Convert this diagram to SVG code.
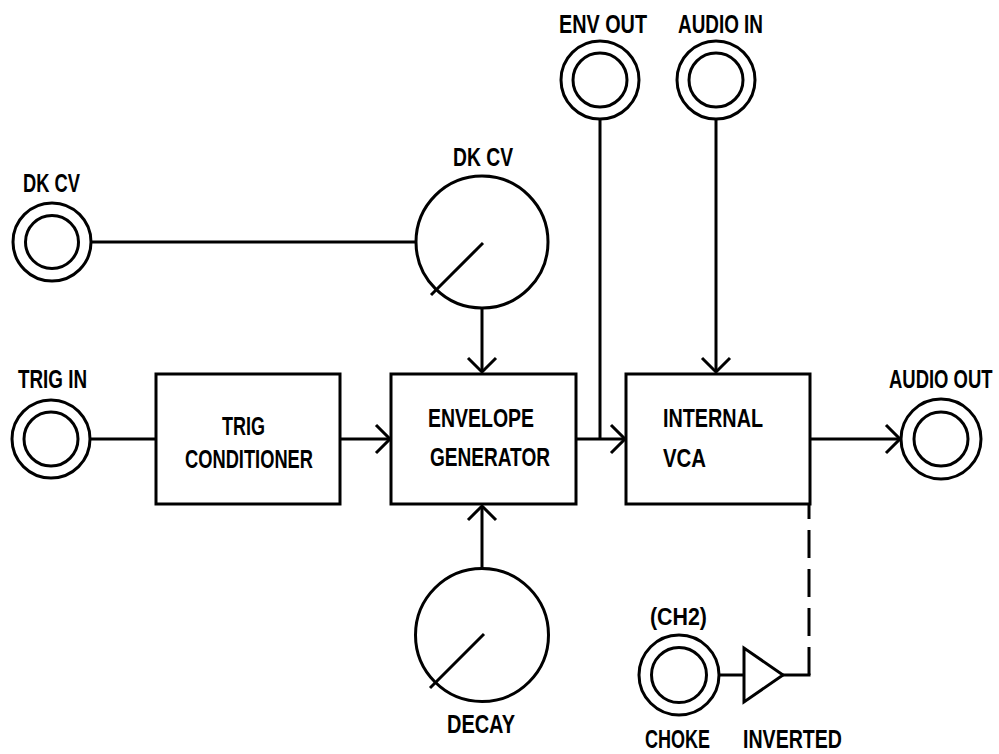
<svg xmlns="http://www.w3.org/2000/svg" width="999" height="754" viewBox="0 0 999 754">
<defs>
<style>
.ln{fill:none;stroke:#000;stroke-width:3}
.box{fill:#fff;stroke:#000;stroke-width:3}
.t{font-family:"Liberation Sans",Arial,sans-serif;font-weight:bold;font-size:26px;fill:#000}
</style>
<marker id="arr" markerUnits="userSpaceOnUse" markerWidth="32" markerHeight="32" refX="0" refY="0" orient="auto" overflow="visible">
<path d="M-14,-14 L0,0 L-14,14" fill="none" stroke="#000" stroke-width="3"/>
</marker>
</defs>
<rect width="999" height="754" fill="#fff"/>
<g id="connectors">
<line class="ln" x1="90" y1="242" x2="416" y2="242"/>
<line class="ln" x1="482" y1="308" x2="482" y2="372" marker-end="url(#arr)"/>
<line class="ln" x1="482" y1="568" x2="482" y2="506" marker-end="url(#arr)"/>
<line class="ln" x1="90" y1="439" x2="156" y2="439"/>
<line class="ln" x1="340" y1="439" x2="390" y2="439" marker-end="url(#arr)"/>
<line class="ln" x1="576" y1="439" x2="625" y2="439" marker-end="url(#arr)"/>
<line class="ln" x1="600" y1="118" x2="600" y2="439"/>
<line class="ln" x1="716" y1="118" x2="716" y2="372" marker-end="url(#arr)"/>
<line class="ln" x1="810" y1="439" x2="900" y2="439" marker-end="url(#arr)"/>
<line class="ln" x1="809" y1="675" x2="809" y2="504" stroke-dasharray="28 11"/>
<line class="ln" x1="782" y1="675" x2="810.5" y2="675"/>
<line class="ln" x1="719" y1="675" x2="744" y2="675"/>
</g>
<g id="jack-dkcv">
<circle class="ln" cx="52" cy="242" r="39"/>
<circle class="ln" cx="52" cy="242" r="26.5"/>
<text class="t" x="23" y="192" textLength="57" lengthAdjust="spacingAndGlyphs">DK CV</text>
</g>
<g id="jack-trigin">
<circle class="ln" cx="51" cy="439" r="39"/>
<circle class="ln" cx="51" cy="439" r="27"/>
<text class="t" x="18" y="388" textLength="69" lengthAdjust="spacingAndGlyphs">TRIG IN</text>
</g>
<g id="jack-envout">
<circle class="ln" cx="600" cy="80" r="39"/>
<circle class="ln" cx="600" cy="80" r="27"/>
<text class="t" x="559" y="33" textLength="88" lengthAdjust="spacingAndGlyphs">ENV OUT</text>
</g>
<g id="jack-audioin">
<circle class="ln" cx="716" cy="80" r="39"/>
<circle class="ln" cx="716" cy="80" r="27"/>
<text class="t" x="678" y="33" textLength="85" lengthAdjust="spacingAndGlyphs">AUDIO IN</text>
</g>
<g id="jack-audioout">
<circle class="ln" cx="941" cy="439" r="40"/>
<circle class="ln" cx="941" cy="439" r="27"/>
<text class="t" transform="translate(889,388) scale(0.71,1)">AUDIO OUT</text>
</g>
<g id="jack-choke">
<circle class="ln" cx="679" cy="675" r="40"/>
<circle class="ln" cx="679" cy="675" r="27.5"/>
<text class="t" x="650" y="625" textLength="57" lengthAdjust="spacingAndGlyphs" style="font-size:23px">(CH2)</text>
<text class="t" x="645" y="748" textLength="65" lengthAdjust="spacingAndGlyphs" style="font-size:25px">CHOKE</text>
</g>
<g id="inverter">
<polygon class="ln" points="744,648 744,702 783,675"/>
<text class="t" x="743" y="748" textLength="99" lengthAdjust="spacingAndGlyphs" style="font-size:25px">INVERTED</text>
</g>
<g id="knob-dkcv">
<circle class="ln" cx="482" cy="242" r="66"/>
<line class="ln" x1="483" y1="243" x2="431" y2="295"/>
<text class="t" x="453" y="166" textLength="60" lengthAdjust="spacingAndGlyphs">DK CV</text>
</g>
<g id="knob-decay">
<circle class="ln" cx="482" cy="635" r="66.5"/>
<line class="ln" x1="484" y1="634" x2="430" y2="688"/>
<text class="t" x="447" y="733" textLength="68" lengthAdjust="spacingAndGlyphs">DECAY</text>
</g>
<g id="trig-conditioner">
<rect class="box" x="156" y="374" width="184" height="130"/>
<text class="t" x="222" y="435" textLength="43" lengthAdjust="spacingAndGlyphs">TRIG</text>
<text class="t" x="185" y="468" textLength="128" lengthAdjust="spacingAndGlyphs">CONDITIONER</text>
</g>
<g id="envelope-generator">
<rect class="box" x="391" y="374" width="185" height="130"/>
<text class="t" x="428" y="427" textLength="106" lengthAdjust="spacingAndGlyphs">ENVELOPE</text>
<text class="t" x="430" y="466" textLength="120" lengthAdjust="spacingAndGlyphs">GENERATOR</text>
</g>
<g id="internal-vca">
<rect class="box" x="626" y="374" width="184" height="130"/>
<text class="t" x="663" y="427" textLength="100" lengthAdjust="spacingAndGlyphs">INTERNAL</text>
<text class="t" x="663" y="467" textLength="43" lengthAdjust="spacingAndGlyphs">VCA</text>
</g>
</svg>
